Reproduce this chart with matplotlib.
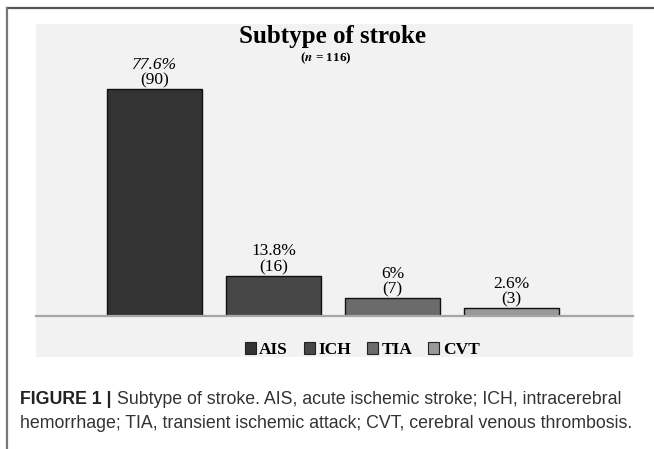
import matplotlib.pyplot as plt
from matplotlib.patches import Rectangle, Patch
from matplotlib.lines import Line2D

plt.rcParams['mathtext.fontset'] = 'stix'

categories = ['AIS', 'ICH', 'TIA', 'CVT']
counts = [90, 16, 7, 3]
percents = ['77.6%', '13.8%', '6%', '2.6%']
colors = ['#333333', '#474747', '#6b6b6b', '#999999']

W, H = 654, 449
fig = plt.figure(figsize=(W / 100, H / 100), dpi=100)

def fx(px):
    return px / W

def fy(py):
    return 1 - py / H

# outer frame (top + left) and grey chart panel
fig.add_artist(Line2D([fx(7), 1], [fy(8), fy(8)], color='#555555', lw=1.6))
fig.add_artist(Line2D([fx(7), fx(7)], [fy(8), 0], color='#777777', lw=1.6))
fig.add_artist(Rectangle((fx(36), fy(357)), fx(633) - fx(36), fy(24) - fy(357),
                         transform=fig.transFigure, facecolor='#f2f2f2', edgecolor='none', zorder=0))

ax = fig.add_axes([fx(36), fy(316), fx(633) - fx(36), fy(70) - fy(316)])
ax.set_facecolor('none')
x = range(len(categories))
ax.bar(x, counts, width=0.8, color=colors, edgecolor='#111111', linewidth=1.0, zorder=2)
ax.set_xlim(-1.0, 4.02)
ax.set_ylim(0, 97.6)
for s in ['top', 'right', 'left']:
    ax.spines[s].set_visible(False)
ax.spines['bottom'].set_color('#a6a6a6')
ax.spines['bottom'].set_linewidth(1.6)
ax.set_xticks([])
ax.set_yticks([])

for i, (c, p) in enumerate(zip(counts, percents)):
    ax.text(i, c + 0.3, '(%d)' % c, ha='center', va='bottom', family='Liberation Serif', fontsize=12.5)
    ax.text(i, c + 6.6, p, ha='center', va='bottom', family='Liberation Serif', fontsize=12.5,
            style='italic' if i == 0 else 'normal')

fig.text(fx(333), fy(36), 'Subtype of stroke', ha='center', va='center',
         family='Liberation Serif', fontweight='bold', fontsize=18)
fig.text(fx(326), fy(58), r'($\mathbfit{n}$ = 116)', ha='center', va='center',
         family='Liberation Serif', fontweight='bold', fontsize=9.5)

handles = [Patch(facecolor=c, edgecolor='#222222', linewidth=0.8) for c in colors]
fig.legend(handles, categories, loc='center', bbox_to_anchor=(fx(362), fy(350)), ncol=4,
           frameon=False, handlelength=0.65, handleheight=0.65, handletextpad=0.2,
           columnspacing=0.9, prop={'family': 'Liberation Serif', 'weight': 'bold', 'size': 12.5})

t1 = fig.text(fx(20), fy(400), 'FIGURE 1 |', ha='left', va='center',
              family='Liberation Sans', fontweight='bold', fontsize=12.8, color='#222222')
ax.annotate('Subtype of stroke. AIS, acute ischemic stroke; ICH, intracerebral',
            xy=(1, 0.5), xycoords=t1, xytext=(4, 0), textcoords='offset points',
            ha='left', va='center', family='Liberation Sans', fontsize=12.8, color='#333333',
            annotation_clip=False)
fig.text(fx(20), fy(424), 'hemorrhage; TIA, transient ischemic attack; CVT, cerebral venous thrombosis.',
         ha='left', va='center', family='Liberation Sans', fontsize=12.8, color='#333333')

fig.savefig('out.png', dpi=100)
